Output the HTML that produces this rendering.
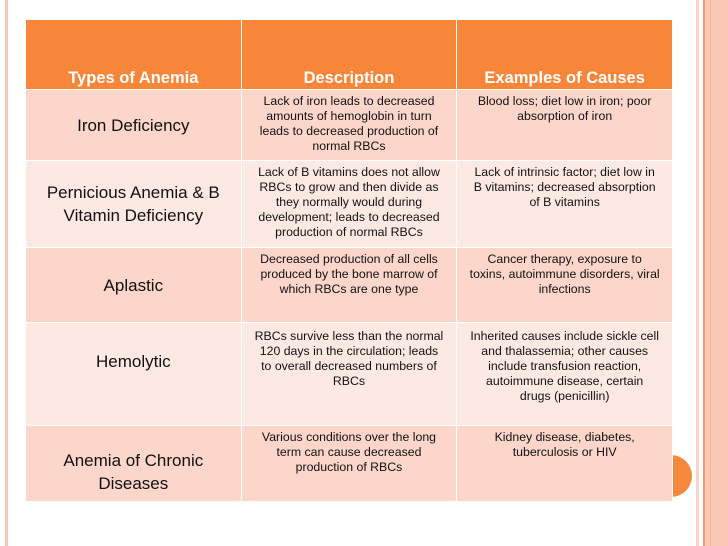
<!DOCTYPE html>
<html><head><style>
body{margin:0;width:728px;height:546px;background:#fff;position:relative;overflow:hidden;font-family:"Liberation Sans",Arial,sans-serif;}
.l{position:absolute;left:5px;top:0;width:3px;height:546px;background:#f7c9bb}
.r1{position:absolute;left:696px;top:0;width:3px;height:546px;background:#f9d3c6}
.r2{position:absolute;left:703px;top:0;width:2px;height:546px;background:#f29a78}
.r3{position:absolute;left:705px;top:0;width:23px;height:546px;background:#fbc9b6}
.r4{position:absolute;left:710px;top:0;width:1px;height:546px;background:#f5b49c}
.dot{position:absolute;left:650px;top:455px;width:42px;height:42px;border-radius:50%;background:#f7893e;z-index:0}
table{position:absolute;left:25px;top:19px;border-collapse:collapse;width:648px;z-index:1}
td{border:1px solid #fff;text-align:center;color:#111;vertical-align:top;padding:0 12px;font-size:12.3px;line-height:15px}
tr.h td{background:#f8863a;color:#fff;font-weight:bold;font-size:16.5px;height:66px;vertical-align:bottom;padding-bottom:3px}
tr.a td{background:#fcd5cb}
tr.b td{background:#fde9e3}
td.n{font-size:17px;line-height:23px;vertical-align:middle;padding:0 6px}
</style></head><body>
<div class="l"></div><div class="r1"></div><div class="r2"></div><div class="r3"></div><div class="r4"></div>
<div class="dot"></div>
<table>
<colgroup><col style="width:216px"><col style="width:216px"><col style="width:216px"></colgroup>
<tr class="h"><td>Types of Anemia</td><td>Description</td><td>Examples of Causes</td></tr>
<tr class="a" style="height:71px"><td class="n">Iron Deficiency</td><td style="padding-top:4px">Lack of iron leads to decreased amounts of hemoglobin in turn leads to decreased production of normal RBCs</td><td style="padding-top:4px">Blood loss; diet low in iron; poor absorption of iron</td></tr>
<tr class="b" style="height:87px"><td class="n">Pernicious Anemia &amp; B Vitamin Deficiency</td><td style="padding-top:4px">Lack of B vitamins does not allow RBCs to grow and then divide as they normally would during development; leads to decreased production of normal RBCs</td><td style="padding-top:4px">Lack of intrinsic factor; diet low in B vitamins; decreased absorption of B vitamins</td></tr>
<tr class="a" style="height:75px"><td class="n">Aplastic</td><td style="padding-top:4px">Decreased production of all cells produced by the bone marrow of which RBCs are one type</td><td style="padding-top:4px">Cancer therapy, exposure to toxins, autoimmune disorders, viral infections</td></tr>
<tr class="b" style="height:103px"><td class="n" style="vertical-align:top;padding-top:27px">Hemolytic</td><td style="padding-top:6px">RBCs survive less than the normal 120 days in the circulation; leads to overall decreased numbers of RBCs</td><td style="padding-top:6px">Inherited causes include sickle cell and thalassemia; other causes include transfusion reaction, autoimmune disease, certain drugs (penicillin)</td></tr>
<tr class="a" style="height:76px"><td class="n" style="vertical-align:bottom;padding-bottom:6px">Anemia of Chronic Diseases</td><td style="padding-top:4px">Various conditions over the long term can cause decreased production of RBCs</td><td style="padding-top:4px">Kidney disease, diabetes, tuberculosis or HIV</td></tr>
</table>
</body></html>
